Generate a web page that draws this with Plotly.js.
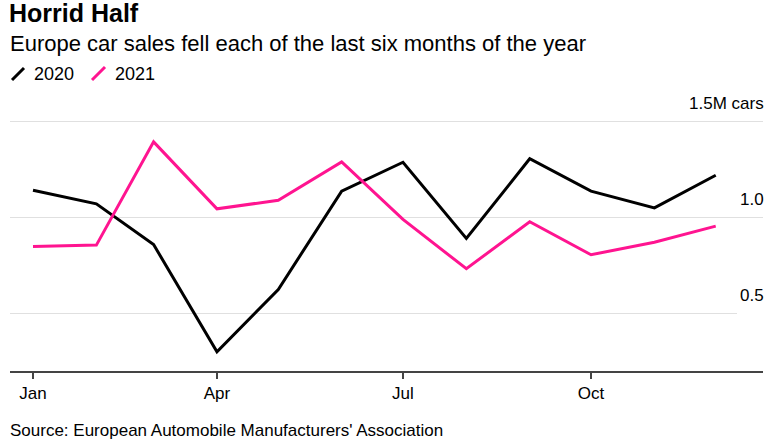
<!DOCTYPE html>
<html>
<head>
<meta charset="utf-8">
<script src="https://cdn.plot.ly/plotly-3.0.1.min.js"></script>
<style>html,body{margin:0;padding:0;background:#fff;}#chart{width:775px;height:443px;}</style>
</head>
<body>
<div id="chart"></div>
<script>
// Data (millions of cars)
const months = ['2021-01-01','2021-02-01','2021-03-01','2021-04-01','2021-05-01','2021-06-01',
                '2021-07-01','2021-08-01','2021-09-01','2021-10-01','2021-11-01','2021-12-01'];
const sales2020 = [1.142, 1.071, 0.859, 0.300, 0.625, 1.137, 1.288, 0.891, 1.306, 1.137, 1.050, 1.220];
const sales2021 = [0.849, 0.856, 1.394, 1.045, 1.090, 1.290, 0.990, 0.733, 0.978, 0.806, 0.871, 0.955];
const seriesNames = ['2020', '2021'];
const xTickVals = ['2021-01-01','2021-04-01','2021-07-01','2021-10-01'];
const xTickText = ['Jan','Apr','Jul','Oct'];
const yTickVals = [1.5, 1.0, 0.5];
const yTickText = ['1.5M cars', '1.0', '0.5'];

const FONT = 'Liberation Sans, Arial, Helvetica, sans-serif';
const BLACK = '#000000';
const PINK = '#ff1490';
const PH = 253; // plot height in px
const py = p => (371 - p) / PH;   // pixel row -> paper y
const px = p => (p - 10) / 753;   // pixel col -> paper x

const traces = [
  {x: months, y: sales2020, name: seriesNames[0], type: 'scatter', mode: 'lines',
   line: {color: BLACK, width: 3}, hoverinfo: 'skip'},
  {x: months, y: sales2021, name: seriesNames[1], type: 'scatter', mode: 'lines',
   line: {color: PINK, width: 3}, hoverinfo: 'skip'}
];

const yAnn = yTickVals.map((v, i) => ({
  xref: 'paper', yref: 'y', x: 1, y: v, xanchor: 'right', yanchor: 'middle',
  xshift: 3, yshift: 18, showarrow: false, text: yTickText[i],
  font: {family: FONT, size: 17, color: '#000'}
}));

const layout = {
  width: 775, height: 443,
  margin: {l: 10, r: 12, t: 118, b: 72, pad: 0},
  paper_bgcolor: '#fff', plot_bgcolor: '#fff',
  showlegend: false,
  title: {text: '<b>Horrid Half</b>', x: 9/775, xref: 'container', xanchor: 'left',
          y: 1 - 13/443, yref: 'container', yanchor: 'middle',
          font: {family: FONT, size: 25, color: '#000'}},
  xaxis: {
    type: 'date', range: ['2020-12-20 18:00', '2021-12-24 03:00'],
    tickvals: xTickVals, ticktext: xTickText,
    ticks: 'outside', ticklen: 6, tickwidth: 1.5, tickcolor: '#444',
    showline: true, linecolor: '#444', linewidth: 1.5,
    showgrid: false, zeroline: false,
    tickfont: {family: FONT, size: 17, color: '#000'}
  },
  yaxis: {
    range: [0.2, 1.5185], tickvals: yTickVals, showticklabels: false,
    showgrid: true, gridcolor: '#e0e0e0', gridwidth: 1.5,
    zeroline: false, showline: false, ticks: ''
  },
  shapes: [
    {type: 'rect', xref: 'paper', yref: 'y', x0: px(737), x1: 1.01, y0: 0.49, y1: 0.51,
     fillcolor: '#fff', line: {width: 0}, layer: 'above'},
    {type: 'line', xref: 'paper', yref: 'paper', x0: px(12), y0: py(80), x1: px(24), y1: py(68),
     line: {color: BLACK, width: 3}},
    {type: 'line', xref: 'paper', yref: 'paper', x0: px(92), y0: py(80), x1: px(105), y1: py(67),
     line: {color: PINK, width: 3}}
  ],
  annotations: [
    {xref: 'paper', yref: 'paper', x: px(8), y: py(44), xanchor: 'left', yanchor: 'middle',
     showarrow: false, text: 'Europe car sales fell each of the last six months of the year',
     font: {family: FONT, size: 22, color: '#000'}},
    {xref: 'paper', yref: 'paper', x: px(32), y: py(74), xanchor: 'left', yanchor: 'middle',
     showarrow: false, text: seriesNames[0], font: {family: FONT, size: 18, color: '#000'}},
    {xref: 'paper', yref: 'paper', x: px(113), y: py(74), xanchor: 'left', yanchor: 'middle',
     showarrow: false, text: seriesNames[1], font: {family: FONT, size: 18, color: '#000'}},
    {xref: 'paper', yref: 'paper', x: px(8), y: py(430), xanchor: 'left', yanchor: 'middle',
     showarrow: false, text: "Source: European Automobile Manufacturers' Association",
     font: {family: FONT, size: 17, color: '#000'}}
  ].concat(yAnn)
};

Plotly.newPlot('chart', traces, layout, {displayModeBar: false, staticPlot: true});
</script>
</body>
</html>
